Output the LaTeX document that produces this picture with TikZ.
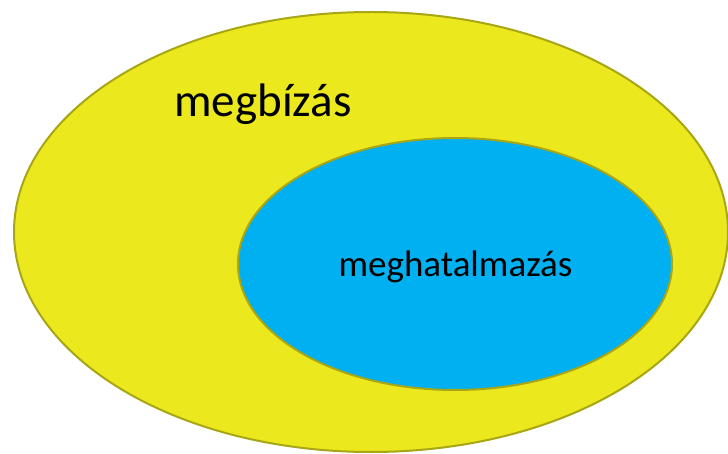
\documentclass[tikz,border=0pt]{standalone}
\usepackage{fontspec}
\setmainfont{Carlito}
\definecolor{yel}{RGB}{235,232,30}
\definecolor{olive}{RGB}{168,166,20}
\definecolor{sky}{RGB}{0,176,240}
\begin{document}
\begin{tikzpicture}[x=1pt,y=-1pt,
  blob/.style={draw=olive,line width=2pt}]
\useasboundingbox (0,0) rectangle (728,454);
\path[blob,fill=yel] (371,232) ellipse [x radius=357, y radius=220];
\path[blob,fill=sky] (455,264) ellipse [x radius=217, y radius=126];
\node[anchor=base,inner sep=0pt,font=\fontsize{47}{56}\selectfont] (outer) at (263,117) {megbízás};
\node[anchor=base,inner sep=0pt,font=\fontsize{37}{44}\selectfont] (inner) at (455.5,277) {meghatalmazás};
\end{tikzpicture}
\end{document}
